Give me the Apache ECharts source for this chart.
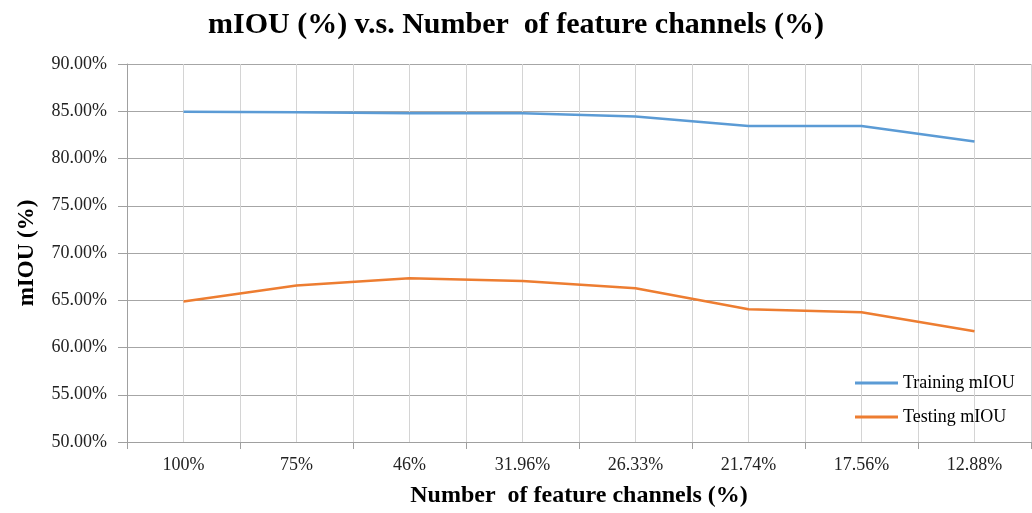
<!DOCTYPE html>
<html>
<head>
<meta charset="utf-8">
<script src="https://cdn.jsdelivr.net/npm/echarts@6/dist/echarts.min.js"></script>
<style>html,body{margin:0;padding:0;background:#fff;}#c{width:1032px;height:513px;}</style>
</head>
<body>
<div id="c"></div>
<script>
const categories = ['100%', '75%', '46%', '31.96%', '26.33%', '21.74%', '17.56%', '12.88%'];
const trainingMIOU = [84.95, 84.9, 84.8, 84.8, 84.45, 83.45, 83.45, 81.8];
const testingMIOU = [64.86, 66.55, 67.32, 67.04, 66.27, 64.05, 63.73, 61.73];
const yTicks = { min: 50, max: 90, interval: 5 };

const serif = '"Liberation Serif", "Times New Roman", serif';
const chart = echarts.init(document.getElementById('c'));
chart.setOption({
  animation: false,
  backgroundColor: '#fff',
  title: {
    text: 'mIOU (%) v.s. Number  of feature channels (%)',
    left: 'center',
    top: 5,
    textStyle: { fontFamily: serif, fontWeight: 'bold', fontSize: 30, color: '#000' }
  },
  legend: {
    orient: 'vertical',
    left: 850,
    top: 369,
    icon: 'rect',
    itemWidth: 43,
    itemHeight: 3,
    itemGap: 16,
    textStyle: { fontFamily: serif, fontSize: 18, color: '#000' },
    data: ['Training mIOU', 'Testing mIOU']
  },
  grid: { left: 127, right: 1, top: 64, bottom: 70, containLabel: false },
  xAxis: [
    {
      type: 'category',
      data: categories,
      boundaryGap: true,
      name: 'Number  of feature channels (%)',
      nameLocation: 'middle',
      nameGap: 42,
      nameTextStyle: { fontFamily: serif, fontWeight: 'bold', fontSize: 24, color: '#000' },
      axisLine: { lineStyle: { color: '#a0a0a0', width: 1 } },
      axisTick: { show: true, length: 7, lineStyle: { color: '#a0a0a0' } },
      axisLabel: { fontFamily: serif, fontSize: 18, color: '#222', margin: 14 },
      splitLine: { show: false }
    },
    {
      type: 'value',
      min: 0,
      max: 16,
      interval: 1,
      position: 'bottom',
      show: true,
      axisLine: { show: false },
      axisTick: { show: false },
      axisLabel: { show: false },
      splitLine: { show: true, lineStyle: { color: '#d4d4d4', width: 1 } }
    }
  ],
  yAxis: {
    type: 'value',
    min: yTicks.min,
    max: yTicks.max,
    interval: yTicks.interval,
    name: 'mIOU (%)',
    nameLocation: 'middle',
    nameGap: 88,
    nameRotate: 90,
    nameTextStyle: { fontFamily: serif, fontWeight: 'bold', fontSize: 23, color: '#000' },
    axisLine: { show: true, lineStyle: { color: '#a0a0a0', width: 1 } },
    axisTick: { show: true, length: 9, lineStyle: { color: '#a0a0a0' } },
    axisLabel: {
      fontFamily: serif, fontSize: 18, color: '#222', margin: 20,
      formatter: v => v.toFixed(2) + '%'
    },
    splitLine: { show: true, lineStyle: { color: '#a6a6a6', width: 1 } }
  },
  series: [
    {
      name: 'Training mIOU',
      type: 'line',
      xAxisIndex: 0,
      data: trainingMIOU,
      symbol: 'none',
      lineStyle: { color: '#5B9BD5', width: 2.5 },
      itemStyle: { color: '#5B9BD5' },
      z: 5
    },
    {
      name: 'Testing mIOU',
      type: 'line',
      xAxisIndex: 0,
      data: testingMIOU,
      symbol: 'none',
      lineStyle: { color: '#ED7D31', width: 2.5 },
      itemStyle: { color: '#ED7D31' },
      z: 5
    }
  ]
});
</script>
</body>
</html>
